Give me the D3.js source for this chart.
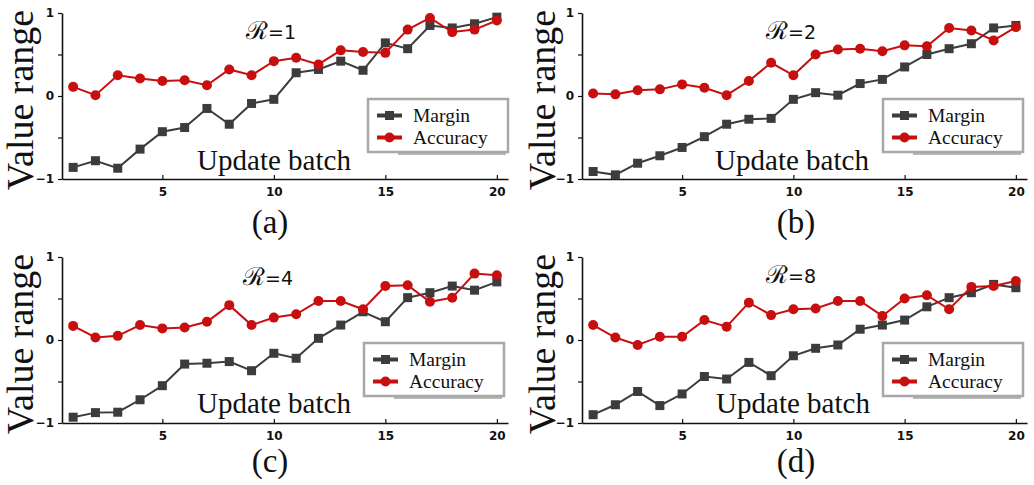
<!DOCTYPE html>
<html><head><meta charset="utf-8">
<script src="https://cdn.jsdelivr.net/npm/d3@7"></script>
<style>body{margin:0;background:#fff} svg{display:block}</style>
</head><body>
<svg id="c" width="1034" height="485"></svg>
<script>
const batches = [1,2,3,4,5,6,7,8,9,10,11,12,13,14,15,16,17,18,19,20];
const xTicks = [5,10,15,20];
const yTicks = [-1,-0.5,0,0.5,1];
const yTickLabels = [-1,0,1];
const panelLabels = ["(a)","(b)","(c)","(d)"];
const rValues = ["1","2","4","8"];
const seriesNames = ["Margin","Accuracy"];

const marginA   = [-0.86,-0.78,-0.87,-0.64,-0.43,-0.38,-0.15,-0.34,-0.09,-0.04,0.28,0.32,0.42,0.31,0.64,0.57,0.85,0.82,0.87,0.95];
const accuracyA = [0.11,0.01,0.25,0.21,0.18,0.19,0.13,0.32,0.25,0.42,0.46,0.38,0.55,0.53,0.52,0.80,0.94,0.77,0.80,0.91];
const marginB   = [-0.91,-0.95,-0.81,-0.72,-0.62,-0.49,-0.34,-0.28,-0.27,-0.04,0.04,0.01,0.15,0.20,0.35,0.50,0.57,0.63,0.82,0.85];
const accuracyB = [0.03,0.02,0.07,0.08,0.14,0.10,0.01,0.18,0.40,0.25,0.50,0.56,0.57,0.54,0.61,0.60,0.82,0.79,0.67,0.83];
const marginC   = [-0.93,-0.875,-0.87,-0.72,-0.55,-0.29,-0.28,-0.26,-0.37,-0.16,-0.22,0.02,0.18,0.34,0.22,0.51,0.57,0.65,0.60,0.70];
const accuracyC = [0.17,0.03,0.05,0.18,0.14,0.15,0.22,0.42,0.18,0.27,0.31,0.47,0.47,0.37,0.65,0.66,0.46,0.51,0.80,0.78];
const marginD   = [-0.90,-0.78,-0.62,-0.79,-0.65,-0.44,-0.47,-0.27,-0.43,-0.19,-0.10,-0.06,0.13,0.18,0.24,0.40,0.51,0.57,0.67,0.63];
const accuracyD = [0.18,0.03,-0.06,0.04,0.04,0.24,0.16,0.45,0.30,0.37,0.38,0.47,0.47,0.29,0.50,0.54,0.37,0.64,0.65,0.71];

const marginSeries = [marginA, marginB, marginC, marginD];
const accuracySeries = [accuracyA, accuracyB, accuracyC, accuracyD];

const colors = {Margin:"#3c3c3c", Accuracy:"#c80f0f"};

const layout = [
  {x0:62,  x1:508,  yTop:13,  yBot:179, titleX:33,  titleY:100, legX:368, legY:99,  updX:274, updY:170, capX:270, capY:233, rX:271, rY:39},
  {x0:582, x1:1027, yTop:13,  yBot:179, titleX:555, titleY:100, legX:883, legY:99,  updX:792, updY:170, capX:796, capY:233, rX:791, rY:39},
  {x0:62,  x1:508,  yTop:257, yBot:423, titleX:33,  titleY:344, legX:364, legY:343, updX:274, updY:413, capX:270, capY:472, rX:268, rY:285},
  {x0:582, x1:1027, yTop:257, yBot:423, titleX:555, titleY:344, legX:883, legY:343, updX:793, updY:413, capX:796, capY:472, rX:791, rY:283}
];

const svg = d3.select("#c");
const serif = "'Liberation Serif','Times New Roman',serif";
const sans = "'DejaVu Sans',Verdana,sans-serif";

layout.forEach((L, i) => {
  const g = svg.append("g");
  const x = d3.scaleLinear().domain([0.5, 20.5]).range([L.x0, L.x1]);
  const y = d3.scaleLinear().domain([-1, 1]).range([L.yBot, L.yTop]);

  // x axis
  const xAxis = d3.axisBottom(x).tickValues(xTicks).tickSizeInner(-4).tickSizeOuter(0).tickPadding(8);
  const gx = g.append("g").attr("transform", `translate(0,${L.yBot})`).call(xAxis);
  gx.select(".domain").attr("stroke", "#111").attr("stroke-width", 1.6);
  gx.selectAll(".tick line").attr("stroke", "#111").attr("stroke-width", 1.2);
  gx.selectAll(".tick text").attr("font-family", sans).attr("font-weight", "bold").attr("font-size", 12).attr("fill", "#111");

  // y axis
  const yAxis = d3.axisLeft(y).tickValues(yTicks).tickSizeInner(4).tickSizeOuter(0).tickPadding(4)
    .tickFormat(d => yTickLabels.includes(d) ? d3.format("d")(d) : "");
  const gy = g.append("g").attr("transform", `translate(${L.x0},0)`).call(yAxis);
  gy.select(".domain").attr("stroke", "#111").attr("stroke-width", 1.6);
  gy.selectAll(".tick line").attr("stroke", "#111").attr("stroke-width", 1.2);
  gy.selectAll(".tick text").attr("font-family", sans).attr("font-weight", "bold").attr("font-size", 12).attr("fill", "#111");

  // y title
  g.append("text").attr("transform", `translate(${L.titleX},${L.titleY}) rotate(-90)`)
    .attr("text-anchor", "middle").attr("font-family", serif).attr("font-size", 38).attr("fill", "#111")
    .text("Value range");

  // Update batch
  g.append("text").attr("x", L.updX).attr("y", L.updY).attr("text-anchor", "middle")
    .attr("font-family", serif).attr("font-size", 29).attr("fill", "#111").text("Update batch");

  // caption
  g.append("text").attr("x", L.capX).attr("y", L.capY).attr("text-anchor", "middle")
    .attr("font-family", serif).attr("font-size", 33).attr("fill", "#111").text(panelLabels[i]);

  // R label
  const rt = g.append("text").attr("x", L.rX).attr("y", L.rY).attr("text-anchor", "middle")
    .attr("font-family", sans).attr("font-size", 19).attr("fill", "#111");
  rt.append("tspan").attr("font-family", "'DejaVu Serif',serif").attr("font-size", 25).text("\u211B");
  rt.append("tspan").text("=" + rValues[i]);

  const line = d3.line().x((d, j) => x(batches[j])).y(d => y(d));

  // Margin
  const m = marginSeries[i];
  g.append("path").datum(m).attr("d", line).attr("fill", "none").attr("stroke", colors.Margin).attr("stroke-width", 2);
  g.selectAll(null).data(m).join("rect")
    .attr("x", (d, j) => x(batches[j]) - 4.5).attr("y", d => y(d) - 4.5)
    .attr("width", 9).attr("height", 9).attr("fill", colors.Margin);

  // Accuracy
  const a = accuracySeries[i];
  g.append("path").datum(a).attr("d", line).attr("fill", "none").attr("stroke", colors.Accuracy).attr("stroke-width", 2);
  g.selectAll(null).data(a).join("circle")
    .attr("cx", (d, j) => x(batches[j])).attr("cy", d => y(d)).attr("r", 5).attr("fill", colors.Accuracy);

  // legend
  const lg = g.append("g").attr("transform", `translate(${L.legX},${L.legY})`);
  lg.append("rect").attr("x", 0).attr("y", 0).attr("width", 140).attr("height", 53)
    .attr("fill", "#fff").attr("stroke", "#a8a8a8").attr("stroke-width", 2.5);
  lg.append("line").attr("x1", 30).attr("x2", 138).attr("y1", 55).attr("y2", 55).attr("stroke", "#777").attr("stroke-width", 1);
  seriesNames.forEach((name, k) => {
    const ly = 16.5 + k * 22;
    lg.append("line").attr("x1", 9).attr("x2", 34).attr("y1", ly).attr("y2", ly)
      .attr("stroke", colors[name]).attr("stroke-width", 4);
    if (name === "Margin") {
      lg.append("rect").attr("x", 17).attr("y", ly - 4.5).attr("width", 9).attr("height", 9).attr("fill", colors[name]);
    } else {
      lg.append("circle").attr("cx", 21.5).attr("cy", ly).attr("r", 5).attr("fill", colors[name]);
    }
    lg.append("text").attr("x", 45).attr("y", ly + 6.5).attr("font-family", serif).attr("font-size", 19.5)
      .attr("fill", "#111").text(name);
  });
});
</script>
</body></html>
